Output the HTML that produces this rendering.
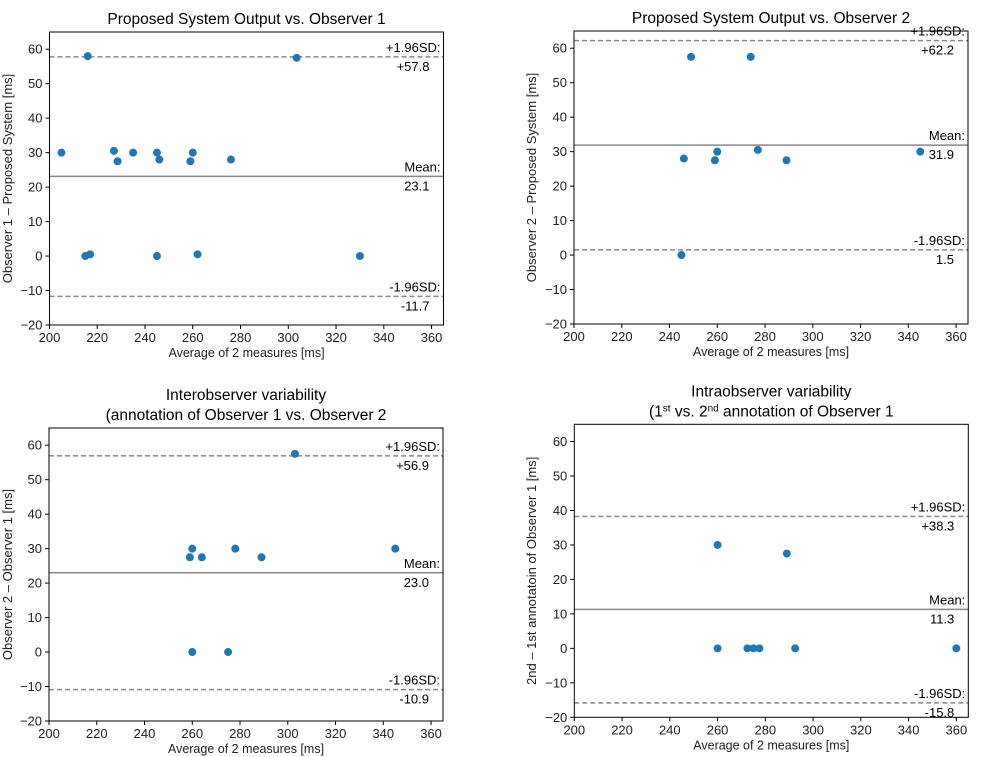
<!DOCTYPE html>
<html><head><meta charset="utf-8"><style>
html,body{margin:0;padding:0;background:#fff;width:982px;height:757px;overflow:hidden}
svg{font-family:"Liberation Sans","DejaVu Sans",sans-serif}
</style></head><body>
<svg id="s" width="982" height="757"></svg>
<script>
const xTicks=[200,220,240,260,280,300,320,340,360];
const yTicks=[-20,-10,0,10,20,30,40,50,60];
const p1x=[205,216,227,228.5,235,245,246,259,260,276,215,217,245,262,303.5,330];
const p1y=[30,58,30.5,27.5,30,30,28,27.5,30,28,0,0.5,0,0.5,57.5,0];
const p1lines=[57.8,23.1,-11.7];
const p2x=[249,274,246,259,260,277,289,345,245];
const p2y=[57.5,57.5,28,27.5,30,30.5,27.5,30,0];
const p2lines=[62.2,31.9,1.5];
const p3x=[303,260,259,264,278,289,345,260,275];
const p3y=[57.5,30,27.5,27.5,30,27.5,30,0,0];
const p3lines=[56.9,23.0,-10.9];
const p4x=[260,289,260,272.5,275,277.5,292.5,360];
const p4y=[30,27.5,0,0,0,0,0,0];
const p4lines=[38.3,11.3,-15.8];
const lineLabels=[["+1.96SD:","+"],["Mean:",""],["-1.96SD:",""]];

const NS="http://www.w3.org/2000/svg";
const svg=document.getElementById('s');
function mk(tag,attrs,parent,text){const e=document.createElementNS(NS,tag);for(const k in attrs)e.setAttribute(k,attrs[k]);if(text!==undefined)e.textContent=text;(parent||svg).appendChild(e);return e;}

function panel(id,L,T,xs,ys,lines,titles,ylabel,ylabelX){
  const W=394,H=293,xmin=200,xmax=365,ymin=-20,ymax=65;
  const sx=v=>L+(v-xmin)/(xmax-xmin)*W;
  const sy=v=>T+H-(v-ymin)/(ymax-ymin)*H;
  const g=mk('g',{});
  
  
  titles.forEach((t,i)=>{
    const tt=mk('text',{x:L+W/2,y:T-8-(titles.length-1-i)*20,'text-anchor':'middle','font-size':'15.5',fill:'#000'},g);
    
    
    if(typeof t==='string'){tt.textContent=t;}
    else{t.forEach(p=>{const a={};if(p[1])a.dy=p[1];if(p[2])a['font-size']='10';mk('tspan',a,tt,p[0]);});}
  });
  xTicks.forEach(v=>{const x=sx(v);mk('line',{x1:x,x2:x,y1:T+H,y2:T+H+4,stroke:'#000'},g);
    const t=mk('text',{x:x,y:T+H+17,'text-anchor':'middle','font-size':'13',fill:'#222'},g,String(v));
    });
  yTicks.forEach(v=>{const y=sy(v);mk('line',{x1:L-4,x2:L,y1:y,y2:y,stroke:'#000'},g);
    const t=mk('text',{x:L-7,y:y+4.5,'text-anchor':'end','font-size':'13',fill:'#222'},g,v<0?'\u2212'+(-v):String(v));
    });
  const xl=mk('text',{x:L+W/2,y:T+H+32,'text-anchor':'middle','font-size':'12.5',fill:'#222'},g,'Average of 2 measures [ms]');
  
  const cy=T+H/2;
  const yl=mk('text',{x:ylabelX,y:cy,'text-anchor':'middle','font-size':'13',fill:'#222',transform:`rotate(-90 ${ylabelX} ${cy})`},g,ylabel);
  
  lines.forEach((v,i)=>{const y=sy(v);
    const ln=mk('line',{x1:L,x2:L+W,y1:y,y2:y,stroke:'#888','stroke-width':'1.5','stroke-dasharray':i===1?'':'5,3'},g);
    
    const a=mk('text',{x:L+W-3,y:y-5,'text-anchor':'end','font-size':'13',fill:'#000'},g,lineLabels[i][0]);
    
    const b=mk('text',{x:L+W-14,y:y+14,'text-anchor':'end','font-size':'13',fill:'#000'},g,lineLabels[i][1]+v.toFixed(1));
    
  });
  xs.forEach((v,i)=>{const c=mk('circle',{cx:sx(v),cy:sy(ys[i]),r:4,fill:'#1f77b4'},g);
    });
  const fr=mk('rect',{x:L,y:T,width:W,height:H,fill:'none',stroke:'#000','stroke-width':'1'},g);
  
}
panel('panel-system-vs-obs1',49.5,32,p1x,p1y,p1lines,['Proposed System Output vs. Observer 1'],'Observer 1 \u2013 Proposed System [ms]',12);
panel('panel-system-vs-obs2',574,31,p2x,p2y,p2lines,['Proposed System Output vs. Observer 2'],'Observer 2 \u2013 Proposed System [ms]',536);
panel('panel-interobserver',49,428,p3x,p3y,p3lines,['Interobserver variability','(annotation of Observer 1 vs. Observer 2'],'Observer 2 \u2013 Observer 1 [ms]',12);
panel('panel-intraobserver',574.3,424.3,p4x,p4y,p4lines,['Intraobserver variability',[['(1',0,0],['st','-5',1],[' vs. 2','5',0],['nd','-5',1],[' annotation of Observer 1','5',0]]],'2nd  \u2013 1st annotatoin of Observer 1 [ms]',536);
</script>
</body></html>
